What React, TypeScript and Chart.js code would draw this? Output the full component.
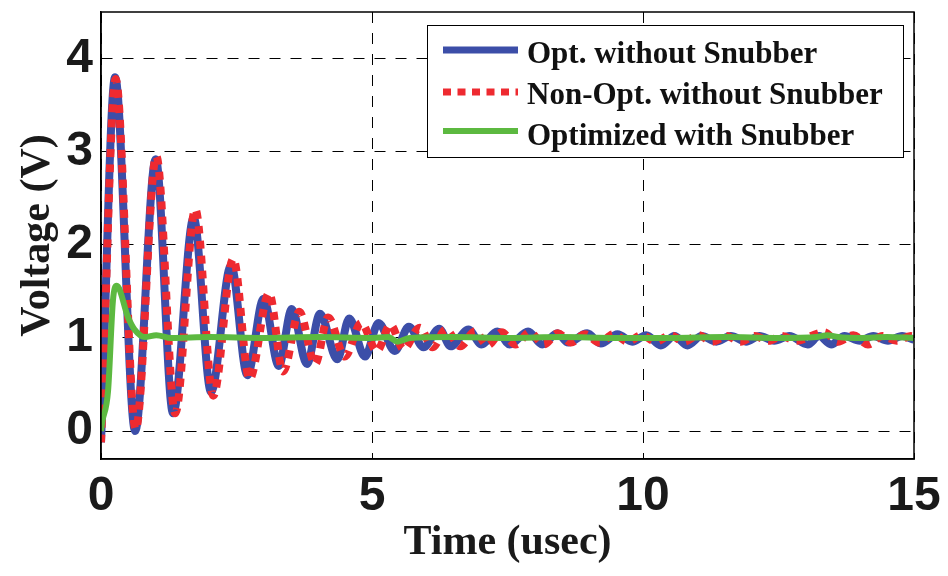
import React, { useEffect, useRef } from "react";
import { Chart, registerables } from "chart.js";

Chart.register(...registerables);

// Turn-on transient of the gate voltage, sampled at the local extrema (time in usec, volts)
const optTime = [
  0.0, 0.26, 0.63, 1.01, 1.33, 1.71, 2.03, 2.4, 2.7, 3.0, 3.28, 3.52, 3.8, 4.04, 4.36, 4.58,
  4.87, 5.12, 5.42, 5.68, 5.95, 6.24, 6.45, 6.78, 7.02, 7.31, 7.54, 7.88, 8.14, 8.42, 8.62,
  8.97, 9.22, 9.53, 9.8, 10.06, 10.33, 10.58, 10.82, 11.08, 11.35, 11.62, 11.9, 12.15, 12.42,
  12.7, 13.04, 13.25, 13.47, 13.72, 14.0, 14.25, 14.52, 14.78, 15.0,
];
const optVolt = [
  -0.12, 3.8, 0.0, 2.92, 0.19, 2.29, 0.42, 1.78, 0.6, 1.42, 0.7, 1.31, 0.72, 1.26, 0.77, 1.21,
  0.8, 1.16, 0.86, 1.12, 0.9, 1.1, 0.91, 1.09, 0.93, 1.07, 0.93, 1.07, 0.93, 1.05, 0.95,
  1.05, 0.94, 1.04, 0.96, 1.03, 0.92, 1.02, 0.92, 1.02, 0.96, 1.02, 0.96, 1.02, 0.97,
  1.02, 0.93, 1.02, 0.93, 1.02, 0.97, 1.02, 0.97, 1.02, 0.98,
];

const nonOptTime = [
  0.0, 0.27, 0.64, 1.02, 1.37, 1.74, 2.07, 2.44, 2.74, 3.1, 3.36, 3.66, 3.95, 4.19, 4.5, 4.8,
  5.09, 5.34, 5.58, 5.88, 6.12, 6.36, 6.63, 6.9, 7.13, 7.39, 7.65, 7.91, 8.17, 8.43, 8.67,
  8.93, 9.2, 9.46, 9.72, 9.98, 10.24, 10.5, 10.76, 11.02, 11.28, 11.54, 11.8, 12.06, 12.32,
  12.56, 12.82, 13.34, 13.6, 13.88, 14.15, 14.42, 14.68, 14.94, 15.0,
];
const nonOptVolt = [
  -0.12, 3.78, 0.02, 2.95, 0.19, 2.38, 0.38, 1.85, 0.56, 1.48, 0.64, 1.28, 0.72, 1.22, 0.8, 1.16,
  0.86, 1.14, 0.88, 1.11, 0.9, 1.09, 0.91, 1.07, 0.92, 1.06, 0.93, 1.06, 0.93, 1.05, 0.95,
  1.04, 0.95, 1.04, 0.96, 1.03, 0.96, 1.03, 0.96, 1.03, 0.96, 1.02, 0.96, 1.02, 0.97,
  1.02, 0.97, 1.06, 0.96, 1.03, 0.93, 1.02, 0.97, 1.02, 1.01,
];

const snubTime = [
  0.0, 0.02, 0.13, 0.22, 0.29, 0.5, 0.62, 0.81, 1.02, 1.3, 2.0, 3.0, 4.0, 5.0, 5.3, 5.47,
  5.7, 6.5, 7.5, 8.5, 9.5, 10.5, 11.5, 12.5, 13.2, 13.4, 13.6, 14.0, 14.5, 15.0,
];
const snubVolt = [
  0.0, 0.09, 0.43, 1.4, 1.56, 1.22, 1.09, 1.01, 1.03, 1.0, 1.01, 1.0, 1.01, 1.0, 1.01, 0.96,
  1.0, 1.01, 1.0, 1.01, 1.0, 1.0, 1.01, 1.0, 1.01, 1.03, 1.01, 1.0, 1.01, 1.0,
];

const seriesLabels = ["Opt. without Snubber", "Non-Opt. without Snubber", "Optimized with Snubber"];
const seriesColors = ["#3c4ea8", "#ee2a30", "#5cb940"];

const xTicks = [0, 5, 10, 15];
const yTicks = [0, 1, 2, 3, 4];

const toPoints = (t: number[], v: number[]) => t.map((x, i) => ({ x, y: v[i] }));

// Boxed plot frame plus the legend drawn inside the plot area
const framePlugin = {
  id: "frameAndLegend",
  afterDraw(chart: any) {
    const { ctx, chartArea } = chart;
    ctx.save();
    ctx.strokeStyle = "#000";
    ctx.lineWidth = 1.5;
    ctx.setLineDash([]);
    ctx.strokeRect(chartArea.left, chartArea.top, chartArea.right - chartArea.left, chartArea.bottom - chartArea.top);

    // legend box
    const bx = 427, by = 25, bw = 476, bh = 132;
    ctx.fillStyle = "#fff";
    ctx.fillRect(bx, by, bw, bh);
    ctx.lineWidth = 1;
    ctx.strokeRect(bx + 0.5, by + 0.5, bw, bh);

    const rows = [50, 92, 131];
    const baselines = [63, 104, 145];
    chart.data.datasets.forEach((ds: any, i: number) => {
      ctx.beginPath();
      ctx.strokeStyle = ds.borderColor;
      ctx.lineWidth = i === 2 ? 6 : 7;
      ctx.lineCap = "butt";
      ctx.setLineDash(i === 1 ? [8, 6.5] : []);
      ctx.moveTo(443, rows[i]);
      ctx.lineTo(518, rows[i]);
      ctx.stroke();
      ctx.setLineDash([]);
      ctx.fillStyle = "#111";
      ctx.font = "bold 31px 'Liberation Serif', 'Times New Roman', serif";
      ctx.textBaseline = "alphabetic";
      ctx.textAlign = "left";
      ctx.fillText(ds.label, 527, baselines[i]);
    });
    ctx.restore();
  },
};

export default function App() {
  const canvasRef = useRef<HTMLCanvasElement | null>(null);

  useEffect(() => {
    const canvas = canvasRef.current;
    if (!canvas) return;
    const tickFont = { family: "'Liberation Sans', Arial, sans-serif", size: 48, weight: "bold" as const };
    const titleFont = { family: "'Liberation Serif', 'Times New Roman', serif", size: 42, weight: "bold" as const };
    const grid = { color: "#000", lineWidth: 1, drawTicks: false };
    const border = { display: true, color: "#000", width: 1.5, dash: [11, 10] };

    const chart = new Chart(canvas, {
      type: "line",
      data: {
        datasets: [
          {
            label: seriesLabels[0],
            data: toPoints(optTime, optVolt),
            borderColor: seriesColors[0],
            borderWidth: 8,
            cubicInterpolationMode: "monotone",
            pointRadius: 0,
            fill: false,
            order: 3,
          },
          {
            label: seriesLabels[1],
            data: toPoints(nonOptTime, nonOptVolt),
            borderColor: seriesColors[1],
            borderWidth: 8,
            borderDash: [8, 7],
            borderCapStyle: "butt",
            cubicInterpolationMode: "monotone",
            pointRadius: 0,
            fill: false,
            order: 2,
          },
          {
            label: seriesLabels[2],
            data: toPoints(snubTime, snubVolt),
            borderColor: seriesColors[2],
            borderWidth: 6,
            cubicInterpolationMode: "monotone",
            pointRadius: 0,
            fill: false,
            order: 1,
          },
        ],
      },
      options: {
        responsive: false,
        animation: false,
        events: [],
        layout: { padding: { top: 12, right: 34, left: 0, bottom: 0 } },
        plugins: { legend: { display: false }, tooltip: { enabled: false } },
        scales: {
          x: {
            type: "linear",
            min: 0,
            max: 15,
            grid,
            border,
            afterBuildTicks: (s: any) => {
              s.ticks = xTicks.map((value) => ({ value }));
            },
            afterFit: (s: any) => {
              s.height = 117;
              s.paddingLeft = 0;
              s.paddingRight = 0;
            },
            ticks: { color: "#1a1a1a", font: tickFont, padding: 9, maxRotation: 0, autoSkip: false },
            title: { display: true, text: "Time (usec)", color: "#1a1a1a", font: titleFont, padding: { top: 0, bottom: 8 } },
          },
          y: {
            type: "linear",
            min: -0.3,
            max: 4.5,
            grid,
            border,
            afterBuildTicks: (s: any) => {
              s.ticks = yTicks.map((value) => ({ value }));
            },
            afterFit: (s: any) => {
              s.width = 101;
              s.paddingTop = 0;
              s.paddingBottom = 0;
            },
            ticks: { color: "#1a1a1a", font: tickFont, padding: 8, autoSkip: false },
            title: { display: true, text: "Voltage (V)", color: "#1a1a1a", font: titleFont, padding: { top: 13, bottom: 0 } },
          },
        },
      },
      plugins: [framePlugin],
    } as any);
    return () => chart.destroy();
  }, []);

  return (
    <div style={{ position: "fixed", left: 0, top: 0, width: 948, height: 576, background: "#fff" }}>
      <canvas ref={canvasRef} width={948} height={576} style={{ display: "block" }} />
    </div>
  );
}
